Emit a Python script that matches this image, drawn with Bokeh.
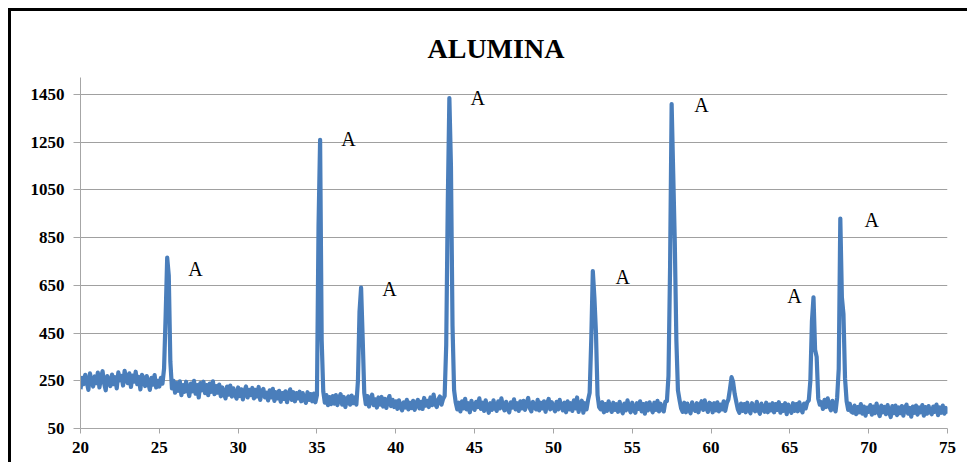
import numpy as np
from bokeh.plotting import figure
from bokeh.models import ColumnDataSource, FixedTicker, Range1d
from bokeh.core.properties import value
from bokeh.embed import file_html
from bokeh.resources import INLINE

chart_title = "ALUMINA"

# XRD scan: 2-theta from 20.0 to 75.0 in steps of 0.1 degree
two_theta_start = 20.0
two_theta_step = 0.1
intensity = [
    215, 262, 236, 275, 244, 212, 281, 250, 226, 268,   # 20
    240, 284, 222, 263, 290, 238, 210, 270, 248, 228,   # 21
    276, 236, 265, 218, 285, 252, 270, 230, 292, 255,   # 22
    240, 281, 224, 272, 246, 288, 236, 266, 214, 275,   # 23
    258, 228, 270, 240, 212, 262, 234, 274, 222, 250,   # 24
    226, 262, 238, 300, 520, 766, 690, 330, 218, 250,   # 25
    200, 240, 208, 248, 190, 232, 204, 246, 214, 186,   # 26
    238, 206, 250, 196, 232, 180, 240, 210, 246, 198,   # 27
    232, 190, 238, 204, 248, 194, 228, 200, 234, 185,   # 28
    222, 196, 176, 226, 192, 230, 184, 218, 194, 175,   # 29
    222, 186, 214, 172, 206, 226, 180, 212, 190, 220,   # 30
    176, 212, 184, 224, 170, 206, 216, 180, 200, 168,   # 31
    210, 180, 216, 166, 202, 176, 208, 162, 198, 174,   # 32
    206, 160, 194, 214, 170, 202, 164, 198, 176, 204,   # 33
    164, 198, 172, 158, 202, 170, 194, 164, 196, 160,   # 34
    190, 900, 1260, 420, 205, 158, 190, 148, 182, 152,  # 35
    186, 154, 190, 148, 178, 194, 150, 182, 140, 174,   # 36
    184, 150, 188, 156, 180, 150, 250, 540, 640, 430,   # 37
    200, 152, 186, 142, 176, 192, 148, 172, 138, 180,   # 38
    150, 182, 142, 174, 136, 168, 186, 144, 170, 140,   # 39
    164, 132, 168, 140, 126, 160, 138, 170, 130, 158,   # 40
    136, 166, 128, 156, 170, 134, 162, 132, 178, 146,   # 41
    166, 140, 180, 148, 192, 152, 140, 172, 184, 150,   # 42
    174, 186, 400, 1000, 1435, 1150, 480, 210, 160, 130,  # 43
    158, 122, 164, 134, 174, 130, 156, 118, 166, 138,   # 44
    128, 162, 140, 176, 132, 158, 124, 168, 140, 116,   # 45
    156, 128, 168, 136, 124, 164, 134, 176, 142, 126,   # 46
    162, 132, 118, 160, 138, 172, 130, 156, 124, 164,   # 47
    134, 166, 128, 156, 178, 136, 122, 162, 140, 130,   # 48
    170, 126, 158, 134, 164, 120, 154, 174, 130, 160,   # 49
    138, 122, 162, 130, 170, 142, 126, 158, 118, 164,   # 50
    130, 156, 124, 168, 134, 180, 120, 154, 166, 116,   # 51
    156, 130, 170, 200, 420, 710, 600, 450, 190, 140,   # 52
    130, 160, 118, 152, 124, 164, 134, 120, 158, 128,   # 53
    152, 120, 162, 130, 114, 154, 126, 168, 136, 118,   # 54
    158, 128, 116, 156, 132, 164, 122, 152, 112, 156,   # 55
    126, 160, 134, 118, 158, 128, 166, 122, 154, 130,   # 56
    122, 162, 165, 270, 720, 1410, 1120, 830, 420, 210,  # 57
    170, 134, 120, 158, 118, 154, 130, 114, 160, 132,   # 58
    124, 156, 118, 150, 164, 128, 168, 134, 120, 158,   # 59
    152, 118, 156, 126, 160, 122, 150, 130, 164, 124,   # 60
    156, 172, 215, 265, 245, 195, 162, 130, 116, 154,   # 61
    124, 152, 118, 158, 128, 114, 156, 132, 122, 162,   # 62
    128, 112, 154, 130, 120, 158, 118, 150, 126, 156,   # 63
    118, 152, 128, 160, 116, 148, 124, 156, 110, 150,   # 64
    130, 116, 156, 124, 152, 122, 160, 132, 118, 154,   # 65
    134, 160, 168, 250, 500, 600, 380, 350, 175, 150,   # 66
    160, 132, 170, 140, 176, 144, 126, 166, 136, 122,   # 67
    180, 300, 930, 600, 530, 260, 165, 128, 154, 120,   # 68
    116, 146, 110, 140, 118, 152, 112, 142, 104, 138,   # 69
    120, 148, 108, 142, 114, 154, 122, 102, 146, 118,   # 70
    140, 110, 148, 118, 98, 144, 114, 146, 106, 138,    # 71
    114, 144, 104, 138, 150, 112, 136, 100, 142, 116,   # 72
    146, 108, 138, 118, 148, 104, 140, 112, 144, 118,   # 73
    110, 142, 120, 150, 106, 138, 116, 146, 112, 136,   # 74
    112,                                                # 75
]
two_theta = np.round(two_theta_start + two_theta_step * np.arange(len(intensity)), 2)

# phase markers ("A" = alumina) placed beside the peaks
peak_label_text = ["A", "A", "A", "A", "A", "A", "A", "A"]
peak_label_x = [27.3, 37.0, 39.6, 45.2, 54.4, 59.4, 65.3, 70.2]
peak_label_y = [719, 1262, 636, 1437, 685, 1406, 607, 923]

x_ticks = [20, 25, 30, 35, 40, 45, 50, 55, 60, 65, 70, 75]
y_ticks = [50, 250, 450, 650, 850, 1050, 1250, 1450]

p = figure(
    width=959, height=454,
    x_range=Range1d(20, 75), y_range=Range1d(50, 1521),
    output_backend="svg", toolbar_location=None,
    min_border_left=69, min_border_right=23,
    min_border_top=66, min_border_bottom=37,
    title=chart_title,
)
p.styles = {"margin-left": "8px", "margin-top": "8px",
            "border-left": "3px solid black", "border-top": "3px solid black"}
p.background_fill_color = "white"
p.border_fill_color = "white"
p.outline_line_color = None

p.title.align = "left"
p.title.offset = 347
p.title.text_font = "Liberation Serif"
p.title.text_font_style = "bold"
p.title.text_font_size = "28px"
p.title.text_color = "black"
p.title.standoff = 28

p.line(two_theta, intensity, line_color="#4a7ebb", line_width=4.2, line_join="round")

src = ColumnDataSource(dict(x=peak_label_x, y=peak_label_y, t=peak_label_text))
p.text(x="x", y="y", text="t", source=src,
       text_font=value("Liberation Serif"), text_font_size=value("20px"),
       text_align="center", text_baseline="middle", text_color="black")

p.xgrid.visible = False
p.ygrid.grid_line_color = "#a0a0a0"
p.ygrid.grid_line_width = 1

p.xaxis.ticker = FixedTicker(ticks=x_ticks)
p.yaxis.ticker = FixedTicker(ticks=y_ticks)
for ax in (p.xaxis[0], p.yaxis[0]):
    ax.axis_line_color = "#a6a6a6"
    ax.major_tick_line_color = "#a6a6a6"
    ax.minor_tick_line_color = None
    ax.major_tick_in = 0
    ax.major_label_text_font = "Liberation Serif"
    ax.major_label_text_font_style = "bold"
    ax.major_label_text_font_size = "17px"
    ax.major_label_text_color = "black"
p.xaxis.major_tick_out = 5
p.xaxis.major_label_standoff = 8
p.yaxis.major_tick_out = 7
p.yaxis.major_label_standoff = 9

open("out.html", "w").write(file_html(p, INLINE))
